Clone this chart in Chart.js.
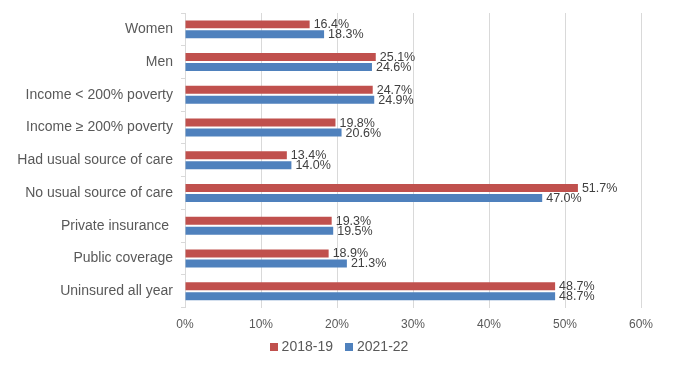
<!DOCTYPE html>
<html>
<head>
<meta charset="utf-8">
<script src="https://cdn.jsdelivr.net/npm/chart.js@4"></script>
<style>
  html, body { margin: 0; padding: 0; background: #fff; }
  #wrap { width: 674px; height: 367px; }
</style>
</head>
<body>
<div id="wrap"><canvas id="my-chart"></canvas></div>
<script>
var categories = ['Women', 'Men', 'Income < 200% poverty', 'Income \u2265 200% poverty',
  'Had usual source of care', 'No usual source of care', 'Private insurance ',
  'Public coverage', 'Uninsured all year'];
var values2018 = [16.4, 25.1, 24.7, 19.8, 13.4, 51.7, 19.3, 18.9, 48.7];
var values2021 = [18.3, 24.6, 24.9, 20.6, 14.0, 47.0, 19.5, 21.3, 48.7];
var xTicks = [0, 10, 20, 30, 40, 50, 60];

var FONT = "'Liberation Sans', Arial, sans-serif";

// draws the value next to each bar end
var barLabels = {
  id: 'barLabels',
  afterDatasetsDraw: function (chart) {
    var c = chart.ctx;
    c.save();
    c.font = '12.5px ' + FONT;
    c.fillStyle = '#404040';
    c.textAlign = 'left';
    c.textBaseline = 'middle';
    chart.data.datasets.forEach(function (ds, i) {
      chart.getDatasetMeta(i).data.forEach(function (bar, j) {
        c.fillText(ds.data[j].toFixed(1) + '%', bar.x + 4, bar.y + 0.5);
      });
    });
    c.restore();
  }
};

// simple legend under the axis, like the office one
var bottomLegend = {
  id: 'bottomLegend',
  afterDraw: function (chart) {
    var c = chart.ctx;
    var box = 8, gap = 4, spacing = 12;
    var cx = chart.width / 2 + 2;
    var cy = chart.height - 20;
    c.save();
    c.font = '14px ' + FONT;
    c.textBaseline = 'middle';
    c.textAlign = 'left';
    var items = chart.data.datasets.map(function (ds) {
      return { text: ds.label, color: ds.backgroundColor, w: box + gap + c.measureText(ds.label).width };
    });
    var total = items.reduce(function (s, it) { return s + it.w; }, 0) + spacing * (items.length - 1);
    var x = cx - total / 2;
    items.forEach(function (it) {
      c.fillStyle = it.color;
      c.fillRect(Math.round(x), Math.round(cy - box / 2), box, box);
      c.fillStyle = '#595959';
      c.fillText(it.text, x + box + gap, cy);
      x += it.w + spacing;
    });
    c.restore();
  }
};

var ctx = document.getElementById('my-chart');
var myChart = new Chart(ctx, {
  type: 'bar',
  data: {
    labels: categories,
    datasets: [
      {
        label: '2018-19',
        data: values2018,
        backgroundColor: '#C0504D',
        barPercentage: 0.8,
        categoryPercentage: 0.61
      },
      {
        label: '2021-22',
        data: values2021,
        backgroundColor: '#4F81BD',
        barPercentage: 0.8,
        categoryPercentage: 0.61
      }
    ]
  },
  plugins: [barLabels, bottomLegend],
  options: {
    indexAxis: 'y',
    responsive: true,
    maintainAspectRatio: false,
    animation: false,
    layout: { padding: { top: 13, right: 33, left: 0, bottom: 25 } },
    plugins: {
      tooltip: { enabled: false },
      legend: { display: false }
    },
    scales: {
      x: {
        min: 0,
        max: 60,
        afterBuildTicks: function (s) {
          s.ticks = xTicks.map(function (v) { return { value: v }; });
        },
        grid: { color: '#D9D9D9', drawTicks: false },
        border: { display: false },
        ticks: {
          padding: 10,
          color: '#595959',
          font: { family: FONT, size: 12 },
          callback: function (v) { return v + '%'; }
        }
      },
      y: {
        afterFit: function (s) {
          s.width = 185;
          s.paddingTop = 0;
          s.paddingBottom = 0;
        },
        grid: {
          offset: true,
          drawOnChartArea: false,
          drawTicks: true,
          tickLength: 4,
          color: '#D9D9D9'
        },
        border: { color: '#D9D9D9' },
        ticks: {
          padding: 8,
          color: '#595959',
          font: { family: FONT, size: 14 }
        }
      }
    }
  }
});
</script>
</body>
</html>
